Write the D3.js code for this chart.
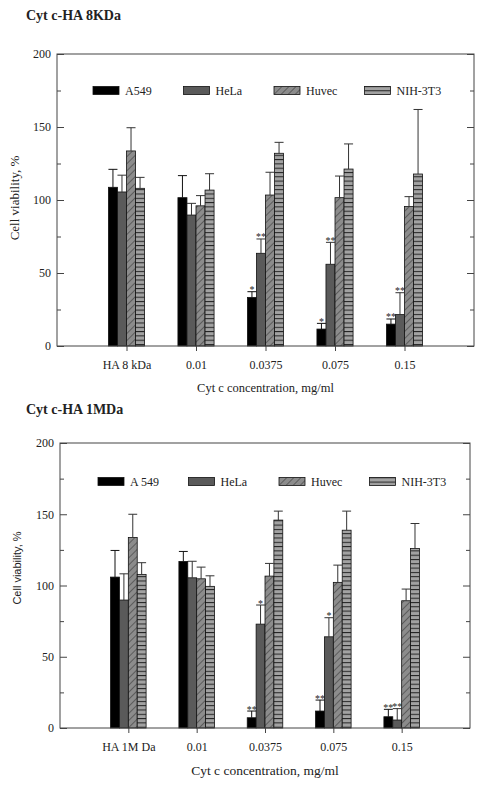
<!DOCTYPE html>
<html><head><meta charset="utf-8">
<script src="https://cdn.jsdelivr.net/npm/d3@7"></script>
<style>
body{margin:0;background:#fff}
text{fill:#222}
</style></head>
<body><svg id="c" width="484" height="787" font-family="Liberation Serif, Times New Roman, serif"></svg>
<script>
// ---------- data ----------
const seriesNames = ["A549","HeLa","Huvec","NIH-3T3"];
const legendTop = ["A549","HeLa","Huvec","NIH-3T3"];
const legendBottom = ["A 549","HeLa","Huvec","NIH-3T3"];
const yTicks = [0,50,100,150,200];

const categoriesTop = ["HA 8 kDa","0.01","0.0375","0.075","0.15"];
const top_A549  = [108.7,101.6,33.3,11.6,15.0];
const top_HeLa  = [105.5,89.7,63.5,56.0,21.5];
const top_Huvec = [133.6,96.0,103.4,101.6,95.6];
const top_NIH   = [108.0,106.8,132.0,121.2,117.8];
const top_A549_sd  = [12.3,15.1,3.9,3.9,3.5];
const top_HeLa_sd  = [11.5,8.0,9.8,15.0,15.0];
const top_Huvec_sd = [15.9,7.0,15.6,14.8,6.7];
const top_NIH_sd   = [7.5,11.2,7.5,17.2,44.2];
const top_A549_sig = ["","","*","*","**"];
const top_HeLa_sig = ["","","**","**","**"];

const categoriesBottom = ["HA 1M Da","0.01","0.0375","0.075","0.15"];
const bot_A549  = [105.9,116.9,7.2,11.9,7.9];
const bot_HeLa  = [89.8,105.4,72.9,64.0,5.6];
const bot_Huvec = [133.7,104.7,106.6,102.2,89.3];
const bot_NIH   = [107.8,99.4,145.9,138.8,126.0];
const bot_A549_sd  = [18.7,7.0,4.7,7.7,5.2];
const bot_HeLa_sd  = [18.4,11.6,13.4,13.4,8.0];
const bot_Huvec_sd = [16.3,8.2,8.9,12.1,8.2];
const bot_NIH_sd   = [8.2,7.4,6.3,13.4,17.5];
const bot_A549_sig = ["","","**","**","**"];
const bot_HeLa_sig = ["","","*","*","**"];

// ---------- drawing ----------
const svg = d3.select("#c");
const defs = svg.append("defs");
const pd = defs.append("pattern").attr("id","diag").attr("patternUnits","userSpaceOnUse")
  .attr("width",5).attr("height",5).attr("patternTransform","rotate(45)");
pd.append("rect").attr("width",5).attr("height",5).attr("fill","#8c8c8c");
pd.append("line").attr("x1",0).attr("y1",0).attr("x2",0).attr("y2",5).attr("stroke","#333").attr("stroke-width",1.1);
const ph = defs.append("pattern").attr("id","horiz").attr("patternUnits","userSpaceOnUse")
  .attr("width",6).attr("height",4.3);
ph.append("rect").attr("width",6).attr("height",4.3).attr("fill","#a2a2a2");
ph.append("line").attr("x1",0).attr("y1",0.5).attr("x2",6).attr("y2",0.5).attr("stroke","#222").attr("stroke-width",1);

const fills = ["#000","#5a5a5a","url(#diag)","url(#horiz)"];
const errColor = ["#111","#333","#333","#333"];
const SERIF = "Liberation Serif, Times New Roman, serif";

function drawChart(o){
  const g = svg.append("g");
  g.append("text").attr("x",o.titleX).attr("y",o.titleY).attr("font-weight","bold")
    .attr("font-size",14).text(o.title);
  const x = d3.scaleLinear().domain([0,6]).range([o.left,o.right]);
  const y = d3.scaleLinear().domain([0,200]).range([o.bottom,o.top]);
  const bw = 0.13; // bar width in x-units
  const values = [o.vA,o.vB,o.vC,o.vD];
  const sds = [o.sA,o.sB,o.sC,o.sD];
  const sigs = [o.gA,o.gB];

  values.forEach((vals,si)=>{
    g.append("g").selectAll("rect").data(vals).join("rect")
      .attr("x",(d,i)=>x(i+1+(si-2)*bw))
      .attr("width",x(bw)-x(0))
      .attr("y",d=>y(d))
      .attr("height",d=>y(0)-y(d))
      .attr("fill",fills[si]).attr("stroke","#111").attr("stroke-width",0.8);
  });
  values.forEach((vals,si)=>{
    const eg = g.append("g").attr("stroke",errColor[si]).attr("stroke-width",1);
    vals.forEach((v,i)=>{
      const cx = x(i+1+(si-1.5)*bw);
      const hw = (x(bw)-x(0))/2;
      eg.append("line").attr("x1",cx).attr("x2",cx).attr("y1",y(v)).attr("y2",y(v+sds[si][i]));
      eg.append("line").attr("x1",cx-hw).attr("x2",cx+hw).attr("y1",y(v+sds[si][i])).attr("y2",y(v+sds[si][i]));
    });
  });
  sigs.forEach((arr,si)=>{
    arr.forEach((s,i)=>{
      if(!s) return;
      const cx = x(i+1+(si-1.5)*bw);
      g.append("text").attr("x",cx).attr("y",y(values[si][i]+sds[si][i])+1.5)
        .attr("text-anchor","middle").attr("font-size",10).attr("fill","#444").text(s);
    });
  });

  g.append("rect").attr("x",o.left).attr("y",o.top).attr("width",o.right-o.left).attr("height",o.bottom-o.top)
    .attr("fill","none").attr("stroke","#444").attr("stroke-width",1);
  const minor = d3.range(25,200,50);
  const yl = g.append("g").attr("transform",`translate(${o.left},0)`)
    .call(d3.axisLeft(y).tickValues(yTicks).tickSize(-7).tickPadding(6));
  const yl2 = g.append("g").attr("transform",`translate(${o.left},0)`)
    .call(d3.axisLeft(y).tickValues(minor).tickSize(-4).tickFormat(""));
  const yr = g.append("g").attr("transform",`translate(${o.right},0)`)
    .call(d3.axisRight(y).tickValues(yTicks).tickSize(-7).tickFormat(""));
  const yr2 = g.append("g").attr("transform",`translate(${o.right},0)`)
    .call(d3.axisRight(y).tickValues(minor).tickSize(-4).tickFormat(""));
  [yl,yl2,yr,yr2].forEach(a=>{a.select(".domain").remove();a.selectAll("line").attr("stroke","#444");});
  yl.attr("font-family",SERIF).attr("font-size",12);
  yl.selectAll("text").attr("fill","#222");
  const xa = g.append("g").attr("transform",`translate(0,${o.bottom})`)
    .call(d3.axisBottom(x).tickValues([1,2,3,4,5]).tickSize(5).tickPadding(9)
      .tickFormat((d)=>o.cats[d-1]));
  xa.select(".domain").remove();
  xa.attr("font-family",SERIF).attr("font-size",12);
  xa.selectAll("line").attr("stroke","#444");
  xa.selectAll("text").attr("fill","#222");
  g.append("text").attr("x",(o.left+o.right)/2).attr("y",o.bottom+o.xlabDy).attr("text-anchor","middle")
    .attr("font-size",o.xlabSize).text("Cyt c concentration, mg/ml");
  g.append("text").attr("transform",`translate(${o.ylabX},${o.ylabY}) rotate(-90)`)
    .attr("text-anchor","middle").attr("font-size",o.ylabSize).attr("font-family",o.ylabFont)
    .text("Cell viability, %");
  const ly = y(o.legendVal);
  o.legend.forEach((name,si)=>{
    const lx = o.legendX + si*o.legendStep;
    g.append("rect").attr("x",lx).attr("y",ly-4).attr("width",26).attr("height",8)
      .attr("fill",fills[si]).attr("stroke","#111").attr("stroke-width",0.8);
    g.append("text").attr("x",lx+32).attr("y",ly+4.5).attr("font-size",12).text(name);
  });
}

drawChart({title:"Cyt c-HA 8KDa",titleX:26,titleY:20,left:57,right:474,top:54,bottom:346,
  cats:categoriesTop,vA:top_A549,vB:top_HeLa,vC:top_Huvec,vD:top_NIH,
  sA:top_A549_sd,sB:top_HeLa_sd,sC:top_Huvec_sd,sD:top_NIH_sd,gA:top_A549_sig,gB:top_HeLa_sig,
  legend:legendTop,legendX:93,legendStep:90.5,legendVal:175,
  ylabX:19,ylabY:198,ylabSize:13,ylabFont:SERIF,xlabDy:46,xlabSize:12.5});
drawChart({title:"Cyt c-HA 1MDa",titleX:26,titleY:414,left:60,right:470,top:443,bottom:728,
  cats:categoriesBottom,vA:bot_A549,vB:bot_HeLa,vC:bot_Huvec,vD:bot_NIH,
  sA:bot_A549_sd,sB:bot_HeLa_sd,sC:bot_Huvec_sd,sD:bot_NIH_sd,gA:bot_A549_sig,gB:bot_HeLa_sig,
  legend:legendBottom,legendX:98,legendStep:90.5,legendVal:173,
  ylabX:21,ylabY:568,ylabSize:11,ylabFont:"Liberation Sans, Arial, sans-serif",xlabDy:47,xlabSize:13.5});
</script></body></html>
